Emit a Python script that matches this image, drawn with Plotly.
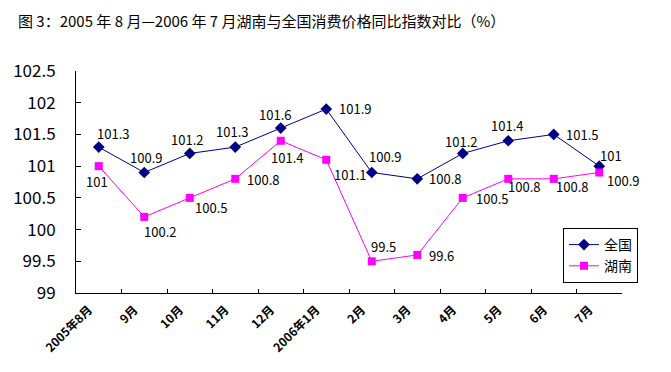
import plotly.graph_objects as go

months = ["2005年8月", "9月", "10月", "11月", "12月", "2006年1月",
          "2月", "3月", "4月", "5月", "6月", "7月"]
national = [101.3, 100.9, 101.2, 101.3, 101.6, 101.9, 100.9, 100.8, 101.2, 101.4, 101.5, 101]
hunan = [101, 100.2, 100.5, 100.8, 101.4, 101.1, 99.5, 99.6, 100.5, 100.8, 100.8, 100.9]

# label offsets (px) for value labels, styling only
nat_off = [(14, -14), (2, -15), (-3, -14), (-3, -16), (-6, -14), (29, -1),
           (13, -16), (28, 0), (-2, -12), (-1, -15), (28, 0), (12, -11)]
hun_off = [(-2, 15), (16, 15), (21, 10), (28, 1), (6, 17), (24, 15),
           (12, -15), (24, 1), (29, 1), (16, 8), (18, 8), (24, 8)]

FONT = "Noto Sans CJK SC"
NAVY = "#000080"
MAG = "#FF00FF"

# page body has an 8px default margin, so the figure is sized/offset accordingly
W, H = 663, 364

fig = go.Figure()
fig.add_trace(go.Scatter(x=months, y=national, name="全国", mode="lines+markers",
                         line=dict(color=NAVY, width=1),
                         marker=dict(symbol="diamond", size=9, color=NAVY)))
fig.add_trace(go.Scatter(x=months, y=hunan, name="湖南", mode="lines+markers",
                         line=dict(color=MAG, width=1),
                         marker=dict(symbol="square", size=8, color=MAG)))

annotations = []
for series, offs in ((national, nat_off), (hunan, hun_off)):
    for m, v, (dx, dy) in zip(months, series, offs):
        annotations.append(dict(x=m, y=v, xref="x", yref="y", text=f"{v:g}",
                                showarrow=False, xshift=dx, yshift=-dy,
                                font=dict(family=FONT, size=13, color="black")))

fig.update_layout(
    width=W, height=H,
    margin=dict(l=68, r=49, t=63, b=79),
    paper_bgcolor="white", plot_bgcolor="white",
    font=dict(family=FONT, color="black"),
    title=dict(text="图 3：2005 年 8 月—2006 年 7 月湖南与全国消费价格同比指数对比（%）",
               x=10 / W, xref="container", xanchor="left",
               y=1 - 14 / H, yref="container", yanchor="middle",
               font=dict(family=FONT, size=15, color="black")),
    showlegend=True,
    legend=dict(x=(563 - 76) / 546, y=(293 - 228) / 222, xanchor="left", yanchor="top",
                bordercolor="black", borderwidth=1, bgcolor="white",
                font=dict(family=FONT, size=14, color="black"),
                itemwidth=30, tracegroupgap=0),
    annotations=annotations,
)
fig.update_xaxes(type="category", range=[-0.5, 11.5], showline=True, linecolor="black",
                 linewidth=1, ticks="inside", tickson="boundaries", ticklen=4,
                 tickcolor="black", showgrid=False, tickangle=-45,
                 ticklabelshift=-10, ticklabelstandoff=4, automargin=False,
                 tickfont=dict(family=FONT, size=12, color="black", weight="bold"))
fig.update_yaxes(range=[99, 102.5], dtick=0.5, tick0=99, showline=True, linecolor="black",
                 linewidth=1, ticks="inside", ticklen=5, tickcolor="black",
                 showgrid=False, zeroline=False, ticklabelstandoff=16, automargin=False,
                 tickfont=dict(family=FONT, size=17, color="black"))

fig.write_html("out.html")
